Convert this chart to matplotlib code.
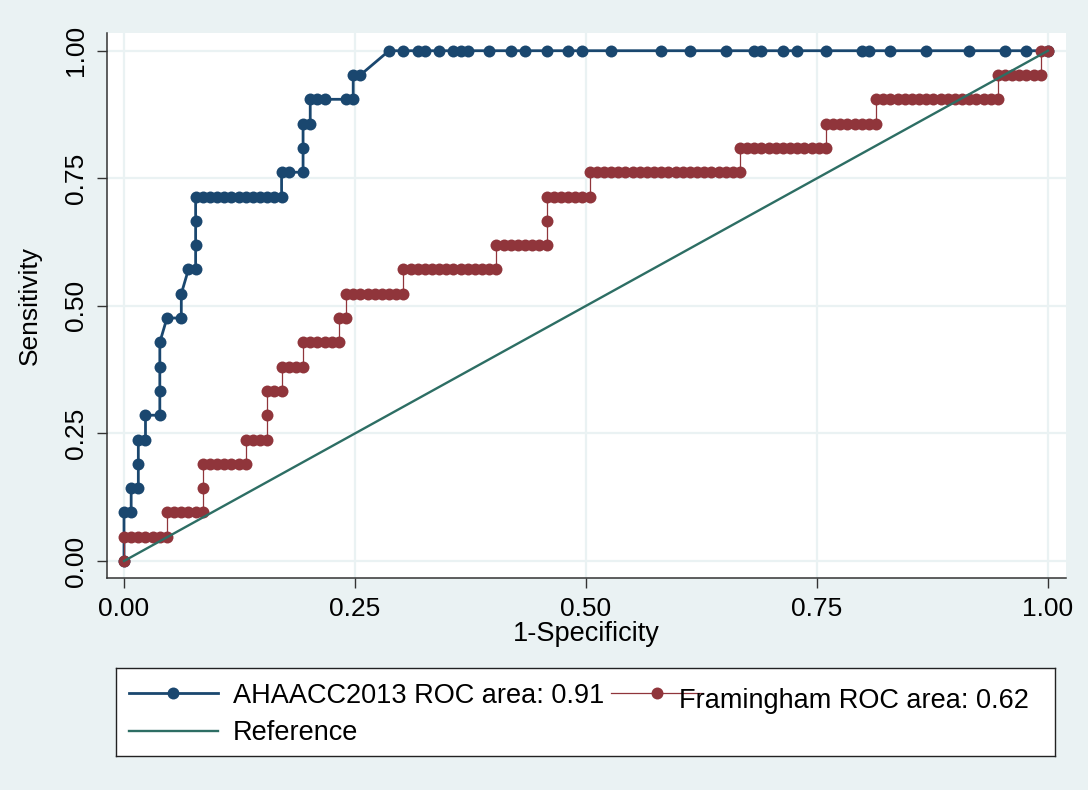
import matplotlib.pyplot as plt
from matplotlib.lines import Line2D

plt.rcParams['font.family'] = ['Liberation Sans', 'DejaVu Sans']

N_NEG = 129   # non-events (x = FP / N_NEG)
N_POS = 21    # events     (y = TP / N_POS)

# AHAACC2013 curve: false-positive / true-positive counts per cutoff
aha_fp = [0, 0, 1, 1, 2, 2, 2, 3, 3, 5, 5, 5, 5, 6, 8, 8, 9, 10, 10, 10, 10,
          11, 12, 13, 14, 15, 16, 17, 18, 19, 20, 21, 22,
          22, 23, 25, 25, 25, 26, 26, 27, 28, 31, 32, 32, 33,
          37, 39, 41, 42, 44, 46, 47, 48, 51, 54, 56, 59, 62, 64, 68, 75,
          79, 84, 88, 89, 92, 94, 98, 103, 104, 107, 112, 118, 123, 126, 129]
aha_tp = [0, 2, 2, 3, 3, 4, 5, 5, 6, 6, 7, 8, 9, 10, 10, 11, 12, 12, 13, 14, 15,
          15, 15, 15, 15, 15, 15, 15, 15, 15, 15, 15, 15,
          16, 16, 16, 17, 18, 18, 19, 19, 19, 19, 19, 20, 20,
          21, 21, 21, 21, 21, 21, 21, 21, 21, 21, 21, 21, 21, 21, 21, 21,
          21, 21, 21, 21, 21, 21, 21, 21, 21, 21, 21, 21, 21, 21, 21]

# Framingham curve
fram_fp = [0,
           0, 1, 2, 3, 4, 5, 6,
           6, 7, 8, 9, 10, 11,
           11,
           11, 12, 13, 14, 15, 16, 17,
           17, 18, 19, 20,
           20,
           20, 21, 22,
           22, 23, 24, 25,
           25, 26, 27, 28, 29, 30,
           30, 31,
           31, 32, 33, 34, 35, 36, 37, 38, 39,
           39, 40, 41, 42, 43, 44, 45, 46, 47, 48, 49, 50, 51, 52,
           52, 53, 54, 55, 56, 57, 58, 59,
           59,
           59, 60, 61, 62, 63, 64, 65,
           65, 66, 67, 68, 69, 70, 71, 72, 73, 74, 75, 76, 77, 78, 79, 80, 81, 82, 83, 84, 85, 86,
           86, 87, 88, 89, 90, 91, 92, 93, 94, 95, 96, 97, 98,
           98, 99, 100, 101, 102, 103, 104, 105,
           105, 106, 107, 108, 109, 110, 111, 112, 113, 114, 115, 116, 117, 118, 119, 120, 121, 122,
           122, 123, 124, 125, 126, 127, 128,
           128, 129]
fram_tp = [0,
           1, 1, 1, 1, 1, 1, 1,
           2, 2, 2, 2, 2, 2,
           3,
           4, 4, 4, 4, 4, 4, 4,
           5, 5, 5, 5,
           6,
           7, 7, 7,
           8, 8, 8, 8,
           9, 9, 9, 9, 9, 9,
           10, 10,
           11, 11, 11, 11, 11, 11, 11, 11, 11,
           12, 12, 12, 12, 12, 12, 12, 12, 12, 12, 12, 12, 12, 12,
           13, 13, 13, 13, 13, 13, 13, 13,
           14,
           15, 15, 15, 15, 15, 15, 15,
           16, 16, 16, 16, 16, 16, 16, 16, 16, 16, 16, 16, 16, 16, 16, 16, 16, 16, 16, 16, 16, 16,
           17, 17, 17, 17, 17, 17, 17, 17, 17, 17, 17, 17, 17,
           18, 18, 18, 18, 18, 18, 18, 18,
           19, 19, 19, 19, 19, 19, 19, 19, 19, 19, 19, 19, 19, 19, 19, 19, 19, 19,
           20, 20, 20, 20, 20, 20, 20,
           21, 21]

ref_x = [0, 1]
ref_y = [0, 1]
ticks = [0, 0.25, 0.5, 0.75, 1.0]
tick_labels = ['0.00', '0.25', '0.50', '0.75', '1.00']

NAVY = '#1a476f'
MAROON = '#90353b'
GREEN = '#2d6e64'
BG = '#eaf2f3'
MS = 8.6

fig = plt.figure(figsize=(10.88, 7.9), dpi=100, facecolor=BG)
ax = fig.add_axes([107 / 1088, 212 / 790, 959 / 1088, 545 / 790])
ax.set_facecolor('white')

ax.plot([f / N_NEG for f in aha_fp], [t / N_POS for t in aha_tp],
        color=NAVY, lw=2.0, marker='o', ms=MS, mew=0, zorder=3)
ax.plot([f / N_NEG for f in fram_fp], [t / N_POS for t in fram_tp],
        color=MAROON, lw=0.9, marker='o', ms=MS, mew=0, zorder=4)
ax.plot(ref_x, ref_y, color=GREEN, lw=1.7, zorder=5)

ax.set_xlim(-0.0184, 1.0195)
ax.set_ylim(-0.0333, 1.0347)
ax.set_xticks(ticks)
ax.set_xticklabels(tick_labels)
ax.set_yticks(ticks)
ax.set_yticklabels(tick_labels, rotation=90, va='center')
ax.grid(True, color=BG, lw=1.6)
ax.set_axisbelow(True)
for s in ['top', 'right']:
    ax.spines[s].set_visible(False)
for s in ['left', 'bottom']:
    ax.spines[s].set_color('#333333')
    ax.spines[s].set_linewidth(1.1)
ax.tick_params(length=7.5, width=1.0, color='#333333', labelsize=19, pad=6)
ax.set_xlabel('1-Specificity', fontsize=19.5, labelpad=0)
ax.set_ylabel('Sensitivity', fontsize=19, labelpad=16)

# legend box, in figure-pixel coordinates
lg = fig.add_axes([116 / 1088, 34 / 790, 939 / 1088, 88 / 790])
lg.set_xlim(116, 1055)
lg.set_ylim(756, 668)
lg.set_xticks([])
lg.set_yticks([])
lg.set_facecolor('white')
for s in lg.spines.values():
    s.set_color('#222222')
    s.set_linewidth(1.0)
lg.add_line(Line2D([129, 218], [693, 693], color=NAVY, lw=2.0))
lg.add_line(Line2D([173], [693], color=NAVY, marker='o', ms=MS, mew=0))
lg.text(233, 703, 'AHAACC2013 ROC area: 0.91', fontsize=19.5, va='baseline')
lg.add_line(Line2D([611, 703], [693, 693], color=MAROON, lw=0.9))
lg.add_line(Line2D([657], [693], color=MAROON, marker='o', ms=MS, mew=0))
lg.text(679, 708, 'Framingham ROC area: 0.62', fontsize=19.5, va='baseline')
lg.add_line(Line2D([129, 218], [731, 731], color=GREEN, lw=1.7))
lg.text(233, 740, 'Reference', fontsize=19.5, va='baseline')

fig.savefig('out.png', dpi=100, facecolor=BG)
